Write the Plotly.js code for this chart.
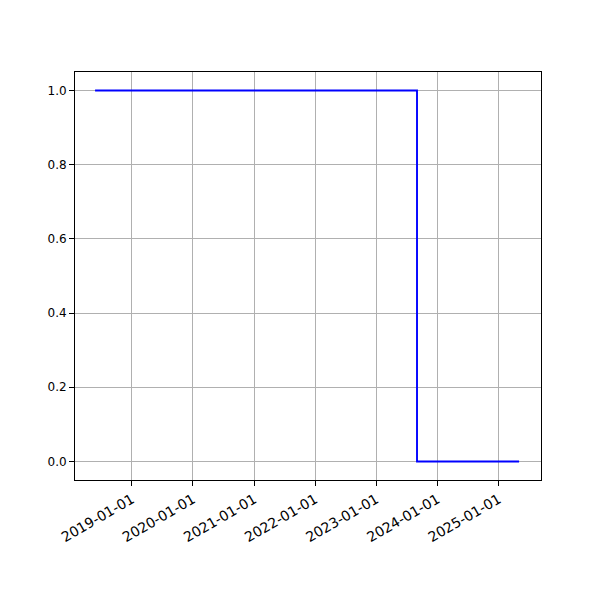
<!DOCTYPE html>
<html>
<head>
<meta charset="utf-8">
<script src="https://cdn.plot.ly/plotly-3.0.1.min.js"></script>
<style>html,body{margin:0;padding:0;background:#fff;}#chart{width:600px;height:600px;}</style>
</head>
<body>
<div id="chart"></div>
<script>
const dates = ["2018-05-26", "2023-09-01", "2025-05-03"];
const values = [1, 0, 0];
const xTickVals = ["2019-01-01", "2020-01-01", "2021-01-01", "2022-01-01", "2023-01-01", "2024-01-01", "2025-01-01"];
const yTickVals = [0.0, 0.2, 0.4, 0.6, 0.8, 1.0];

const trace = {
  x: dates, y: values, type: "scatter", mode: "lines",
  line: {shape: "hv", color: "#0000ff", width: 1.9}, hoverinfo: "skip"
};

const yfont = {family: "DejaVu Sans", size: 12, color: "#000"};
const xfont = {family: "DejaVu Sans", size: 14, color: "#000"};
const layout = {
  width: 600, height: 600,
  margin: {l: 75, r: 59, t: 72, b: 120},
  paper_bgcolor: "#fff", plot_bgcolor: "#fff",
  showlegend: false,
  font: yfont,
  xaxis: {
    type: "date",
    range: ["2018-01-26", "2025-09-11"],
    tickvals: xTickVals, ticktext: xTickVals,
    tickangle: -30,
    ticks: "outside", ticklen: 5, tickcolor: "#000", tickwidth: 1,
    showgrid: true, gridcolor: "#b0b0b0", gridwidth: 1,
    showline: true, linecolor: "#000", linewidth: 1, mirror: true,
    zeroline: false, tickfont: xfont
  },
  yaxis: {
    range: [-0.05, 1.05],
    tickvals: yTickVals, ticktext: yTickVals.map(v => v.toFixed(1)),
    ticks: "outside", ticklen: 5, tickcolor: "#000", tickwidth: 1,
    showgrid: true, gridcolor: "#b0b0b0", gridwidth: 1,
    showline: true, linecolor: "#000", linewidth: 1, mirror: true,
    zeroline: false, tickfont: yfont
  }
};
Plotly.newPlot("chart", [trace], layout, {staticPlot: true, displayModeBar: false});
</script>
</body>
</html>
